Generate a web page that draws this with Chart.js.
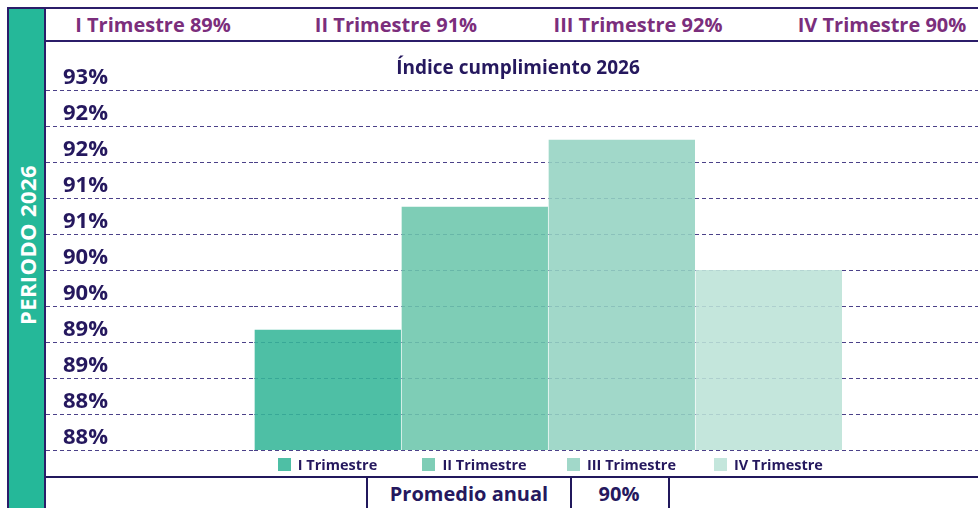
<!DOCTYPE html>
<html>
<head>
<meta charset="utf-8">
<script src="https://cdn.jsdelivr.net/npm/chart.js@4.4.1/dist/chart.umd.min.js"></script>
<style>
  html, body { margin: 0; padding: 0; background: #fff; width: 978px; height: 508px; overflow: hidden; font-family: "Open Sans", sans-serif; }
  .frame { position: absolute; left: 7px; top: 7px; width: 990px; height: 520px; border-left: 2px solid #2b1d69; border-top: 2px solid #2b1d69; }
  .side { position: absolute; left: 9px; top: 9px; width: 35px; height: 510px; background: #25b899; border-right: 2px solid #2b1d69; }
  .side span { position: absolute; left: 18px; top: 236px; transform: translate(-50%, -50%) rotate(-90deg); white-space: nowrap; color: #fff; font-weight: 700; font-size: 22px; letter-spacing: 0.4px; }
  .head { position: absolute; left: 46px; top: 9px; width: 940px; height: 31px; border-bottom: 2px solid #2b1d69; }
  .head div { position: absolute; top: 0; width: 243px; text-align: center; line-height: 31px; color: #7b2e7c; font-weight: 700; font-size: 20px; white-space: nowrap; }
  #wrap { position: absolute; left: 46px; top: 43px; width: 932px; height: 433px; }
  .foot { position: absolute; left: 46px; top: 476px; width: 940px; height: 40px; border-top: 2px solid #21185c; }
  .foot div { position: absolute; top: 0; height: 40px; box-sizing: border-box; text-align: center; line-height: 32px; color: #25185e; font-weight: 700; font-size: 20px; }
  .foot .c1 { left: 320px; width: 206px; border-left: 2px solid #21185c; border-right: 2px solid #21185c; }
  .foot .c2 { left: 524px; width: 100px; border-right: 2px solid #21185c; }
</style>
</head>
<body>
<div class="frame"></div>
<div class="side"><span>PERIODO 2026</span></div>
<div class="head" id="head"></div>
<div id="wrap"><canvas id="chart"></canvas></div>
<div class="foot"><div class="c1">Promedio anual</div><div class="c2" id="avg"></div></div>
<script>
const chartTitle = "Índice cumplimiento 2026";
const quarterLabels = ["I Trimestre", "II Trimestre", "III Trimestre", "IV Trimestre"];
const quarterValues = [89.68, 91.39, 92.32, 90.51];
const yTickValues = [88, 88.5, 89, 89.5, 90, 90.5, 91, 91.5, 92, 92.5, 93];

const barColors = ["rgba(53,182,153,0.88)", "rgba(108,198,172,0.88)", "rgba(148,211,194,0.88)", "rgba(188,227,215,0.88)"];
const navy = "#25185e";
const gridColor = "#4b4189";

// header cells: quarter name + truncated value
const headCenters = [107, 350, 592, 836];
const head = document.getElementById("head");
quarterLabels.forEach((name, i) => {
  const d = document.createElement("div");
  d.textContent = name + " " + Math.floor(quarterValues[i]) + "%";
  d.style.left = (headCenters[i] - 121.5) + "px";
  head.appendChild(d);
});
const avg = quarterValues.reduce((a, b) => a + b, 0) / quarterValues.length;
document.getElementById("avg").textContent = Math.floor(avg) + "%";

// colour squares in front of the x labels (acts as the legend)
const legendBoxes = {
  id: "legendBoxes",
  afterDraw(chart) {
    const { ctx, scales: { x } } = chart;
    ctx.save();
    ctx.font = "bold 14.5px 'Open Sans'";
    x.ticks.forEach((t, i) => {
      const w = ctx.measureText(x.getLabelForValue(t.value)).width;
      const cx = x.getPixelForTick(i) + 10;
      ctx.fillStyle = barColors[i];
      ctx.fillRect(Math.round(cx - w / 2 - 20), x.top + 8, 13, 13);
    });
    ctx.restore();
  }
};

const yTicks = (s) => { s.ticks = yTickValues.map((v) => ({ value: v })); };

new Chart(document.getElementById("chart"), {
  type: "bar",
  data: {
    labels: quarterLabels,
    datasets: [
      {
        label: chartTitle,
        data: quarterValues,
        backgroundColor: barColors,
        borderColor: "rgba(255,255,255,0.35)",
        borderWidth: { top: 1, left: 1, right: 0, bottom: 0 },
        categoryPercentage: 1,
        barPercentage: 1,
      },
    ],
  },
  options: {
    responsive: true,
    maintainAspectRatio: false,
    animation: false,
    layout: { padding: { left: 12 } },
    plugins: {
      legend: { display: false },
      tooltip: { enabled: false },
      title: {
        display: true,
        text: chartTitle,
        color: navy,
        font: { family: "'Open Sans'", size: 19, weight: "bold" },
        padding: { top: 14, bottom: 10.4 },
      },
    },
    scales: {
      x: {
        afterFit: (s) => { s.height = 26; },
        grid: { display: false, drawTicks: false },
        border: { display: false },
        ticks: { padding: 7, labelOffset: 10, color: navy, font: { family: "'Open Sans'", size: 14.5, weight: "bold" } },
      },
      y: {
        min: yTickValues[0],
        max: yTickValues[yTickValues.length - 1],
        afterBuildTicks: yTicks,
        afterFit: (s) => { s.width = 196; },
        border: { display: false, dash: [4, 3] },
        grid: { color: gridColor, tickColor: gridColor, tickLength: 208, tickBorderDash: [4, 3] },
        ticks: {
          autoSkip: false,
          padding: -62,
          labelOffset: -12,
          color: navy,
          font: { family: "'Open Sans'", size: 22, weight: "bold" },
          callback: (v) => Math.floor(v) + "%",
        },
      },
      y2: {
        position: "right",
        min: yTickValues[0],
        max: yTickValues[yTickValues.length - 1],
        afterBuildTicks: yTicks,
        afterFit: (s) => { s.width = 136; },
        border: { display: false },
        grid: { drawOnChartArea: false, tickColor: gridColor, tickLength: 136, tickBorderDash: [4, 3] },
        ticks: { display: false },
      },
    },
  },
  plugins: [legendBoxes],
});
</script>
</body>
</html>
